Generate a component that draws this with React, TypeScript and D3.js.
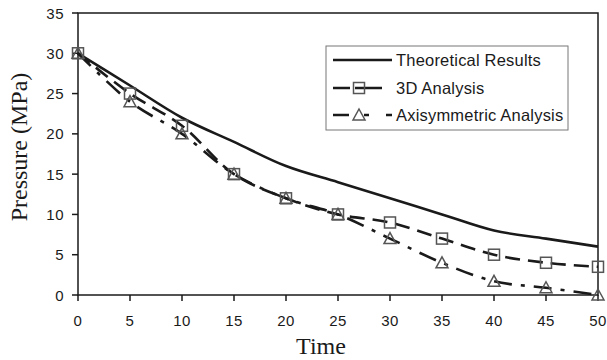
import React from "react";
import * as d3 from "d3";

const times = [0, 5, 10, 15, 20, 25, 30, 35, 40, 45, 50];
const theoretical = [30, 26, 22, 19, 16, 14, 12, 10, 8, 7, 6];
const analysis3D = [30, 25, 21, 15, 12, 10, 9, 7, 5, 4, 3.5];
const axisymmetric = [30, 24, 20, 15, 12, 10, 7, 4, 1.7, 0.9, 0];
const yTicks = [0, 5, 10, 15, 20, 25, 30, 35];
const xTicks = [0, 5, 10, 15, 20, 25, 30, 35, 40, 45, 50];
const seriesNames = ["Theoretical Results", "3D Analysis", "Axisymmetric Analysis"];

const W = 607;
const H = 360;
const margin = { top: 13, right: 9, bottom: 65, left: 78 };

const App = () => {
  const x = d3.scaleLinear().domain([0, 50]).range([margin.left, W - margin.right]);
  const y = d3.scaleLinear().domain([0, 35]).range([H - margin.bottom, margin.top]);

  const line = d3
    .line<number>()
    .x((_, i) => x(times[i]))
    .y((d) => y(d))
    .curve(d3.curveCatmullRom.alpha(0.5));

  const tickFont = "'Liberation Sans', Arial, sans-serif";
  const serif = "'Liberation Serif', 'Times New Roman', serif";
  const ink = "#1a1a1a";
  const markStroke = "#555";

  const square = (cx: number, cy: number, key: string) => (
    <rect key={key} x={cx - 5.5} y={cy - 5.5} width={11} height={11} fill="none" stroke={markStroke} strokeWidth={1.5} />
  );
  const triangle = (cx: number, cy: number, key: string) => (
    <path
      key={key}
      d={`M${cx},${cy - 6}L${cx + 6},${cy + 5}L${cx - 6},${cy + 5}Z`}
      fill="none"
      stroke={markStroke}
      strokeWidth={1.5}
    />
  );

  const x0 = x(0);
  const y0 = y(0);
  const legendX = 326;
  const legendY = 46;
  const rows = [60, 88, 115];

  return (
    <svg width={W} height={H} style={{ position: "absolute", left: 0, top: 0, background: "#fff" }}>
      {/* frame */}
      <rect x={x0} y={y(35)} width={x(50) - x0} height={y0 - y(35)} fill="none" stroke={ink} strokeWidth={1.5} />

      {/* y ticks */}
      {yTicks.map((t) => (
        <g key={"y" + t}>
          <line x1={x0 - 6} x2={x0} y1={y(t)} y2={y(t)} stroke={ink} strokeWidth={1.5} />
          <text x={x0 - 14} y={y(t) + 5.5} textAnchor="end" fontFamily={tickFont} fontSize={15} fill={ink} letterSpacing={0.5}>
            {t}
          </text>
        </g>
      ))}

      {/* x ticks */}
      {xTicks.map((t) => (
        <g key={"x" + t}>
          <line x1={x(t)} x2={x(t)} y1={y0} y2={y0 + 6} stroke={ink} strokeWidth={1.5} />
          <text x={x(t)} y={y0 + 31} textAnchor="middle" fontFamily={tickFont} fontSize={15} fill={ink} letterSpacing={0.5}>
            {t}
          </text>
        </g>
      ))}

      {/* axis titles */}
      <text x={321} y={354} textAnchor="middle" fontFamily={serif} fontSize={24} fill={ink}>
        Time
      </text>
      <text
        transform={`translate(27,${147}) rotate(-90)`}
        textAnchor="middle"
        fontFamily={serif}
        fontSize={24}
        fill={ink}
      >
        Pressure (MPa)
      </text>

      {/* series */}
      <path d={line(theoretical) || ""} fill="none" stroke={ink} strokeWidth={2.6} />
      <path d={line(analysis3D) || ""} fill="none" stroke={ink} strokeWidth={2.6} strokeDasharray="15 8" />
      <path d={line(axisymmetric) || ""} fill="none" stroke={ink} strokeWidth={2.6} strokeDasharray="18 9 4 9" />
      {analysis3D.map((v, i) => square(x(times[i]), y(v), "s" + i))}
      {axisymmetric.map((v, i) => triangle(x(times[i]), y(v), "t" + i))}

      {/* legend */}
      <rect x={legendX} y={legendY} width={242} height={84} fill="#fff" stroke="#777" strokeWidth={1} />
      <line x1={333} x2={392} y1={rows[0]} y2={rows[0]} stroke={ink} strokeWidth={2.6} />
      <line x1={333} x2={382} y1={rows[1]} y2={rows[1]} stroke={ink} strokeWidth={2.6} strokeDasharray="17 5 27" />
      {square(359, rows[1], "ls")}
      <line x1={333} x2={392} y1={rows[2]} y2={rows[2]} stroke={ink} strokeWidth={2.6} strokeDasharray="16 15 5 17 6" />
      {triangle(359, rows[2], "lt")}
      {seriesNames.map((n, i) => (
        <text key={n} x={396} y={rows[i] + 6} fontFamily={tickFont} fontSize={16.5} fill={ink} letterSpacing={0.2}>
          {n}
        </text>
      ))}
    </svg>
  );
};

export default App;
